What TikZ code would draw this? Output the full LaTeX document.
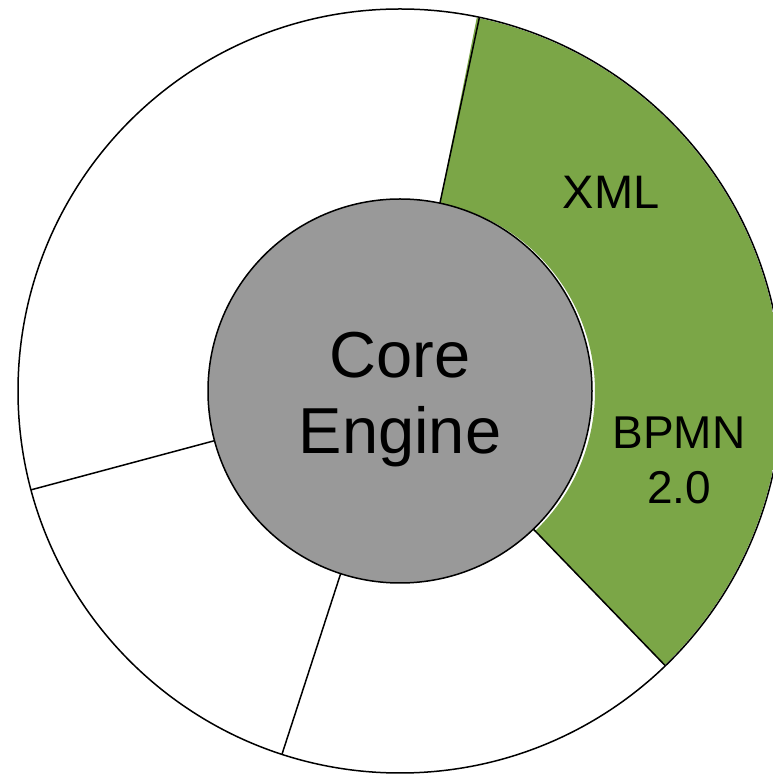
\documentclass[tikz,border=0pt]{standalone}
\usepackage{fontspec}
\setmainfont{Liberation Sans}
\definecolor{segGreen}{HTML}{7BA647}
\definecolor{coreGray}{HTML}{999999}
\begin{document}
\begin{tikzpicture}[x=1pt,y=1pt,
  ringline/.style={draw=black,line width=1.5pt},
  disc/.style={circle,inner sep=0pt,outer sep=0pt},
  lbl/.style={inner sep=0pt,align=center,text=black}]
\useasboundingbox (0,0) rectangle (773,776);
\clip (0,0) rectangle (773,776);
\coordinate (c) at (400,385);
\node[disc,fill=white,minimum size=764pt] (outer) at (c) {};
\node[disc,minimum size=384pt] (coreref) at (c) {};
\begin{scope}
  \clip (c) circle[radius=381];
  \fill[segGreen] (coreref.-46.9) -- (outer.-46.9)
    arc[start angle=-46.9,end angle=78.9,radius=382] -- (coreref.78.9)
    arc[start angle=78.9,end angle=-46.9,radius=192] -- cycle;
\end{scope}
\draw[ringline] (coreref.-46.9) -- (outer.-46.9);
\draw[ringline] (coreref.78.9) -- (outer.78.9);
\draw[ringline] (coreref.195) -- (outer.195);
\draw[ringline] (coreref.252.5) -- (outer.252.5);
\draw[ringline] (c) circle[radius=382];
\node[disc,ringline,fill=coreGray,minimum size=384pt] (core) at (c) {};
\node[lbl,font=\fontsize{65}{76}\selectfont] (corelabel) at (400,376) {Core\\Engine};
\node[lbl,font=\fontsize{47}{56}\selectfont] (xml) at (611,584) {XML};
\node[lbl,font=\fontsize{46}{55}\selectfont] (bpmn) at (679,316) {BPMN\\2.0};
\end{tikzpicture}
\end{document}
